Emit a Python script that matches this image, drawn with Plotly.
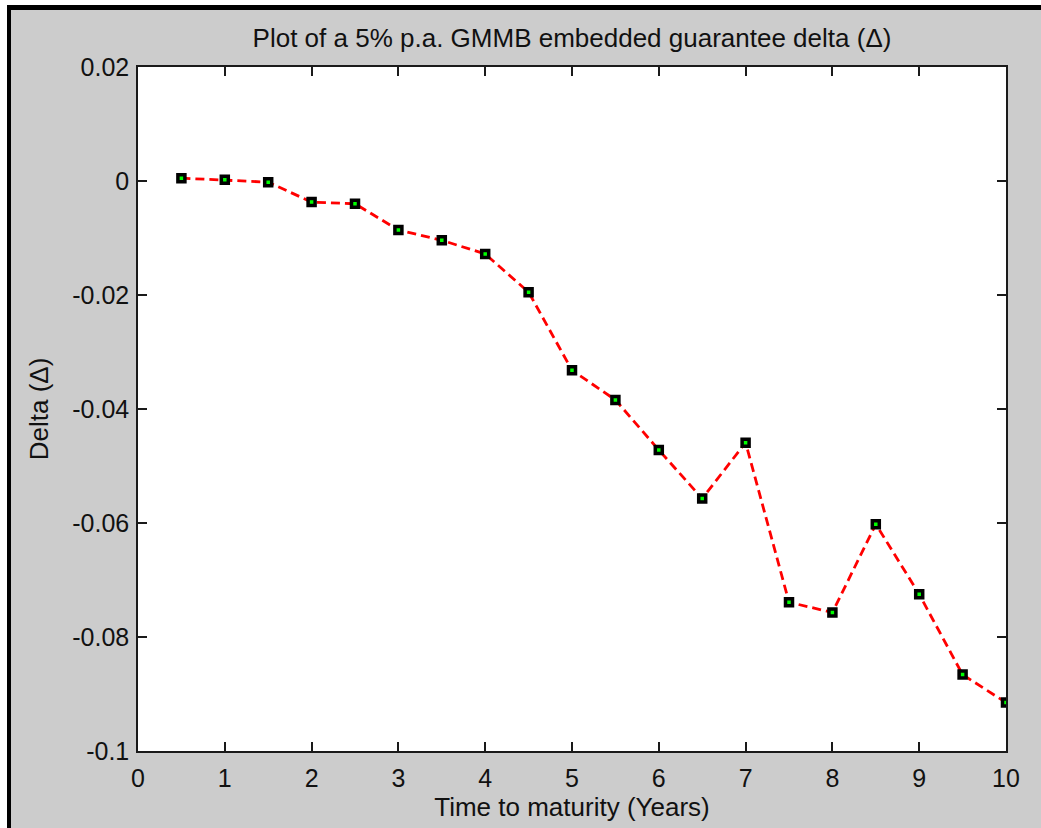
import plotly.graph_objects as go

# Time to maturity (years) and the guarantee delta at each point
maturity_years = [0.5, 1.0, 1.5, 2.0, 2.5, 3.0, 3.5, 4.0, 4.5, 5.0,
                  5.5, 6.0, 6.5, 7.0, 7.5, 8.0, 8.5, 9.0, 9.5, 10.0]
delta_values = [0.0005, 0.0002, -0.0002, -0.0037, -0.0040, -0.0086, -0.0104,
                -0.0128, -0.0195, -0.0332, -0.0384, -0.0472, -0.0557, -0.0459,
                -0.0739, -0.0757, -0.0602, -0.0725, -0.0866, -0.0915]

x_ticks = list(range(0, 11))
x_tick_text = [str(v) for v in x_ticks]
y_ticks = [0.02, 0.0, -0.02, -0.04, -0.06, -0.08, -0.1]
y_tick_text = ["0.02", "0", "-0.02", "-0.04", "-0.06", "-0.08", "-0.1"]

W, H = 1041, 828
L, R, T, B = 138, 35, 67, 77
FONT = "Liberation Sans, Arial, sans-serif"

fig = go.Figure()
fig.add_trace(go.Scatter(
    x=maturity_years, y=delta_values,
    mode="lines+markers",
    line=dict(color="#ff0000", width=2.8, dash="9px,5px"),
    marker=dict(symbol="square", size=7, color="#00ff00",
                line=dict(color="#000000", width=3.5)),
    showlegend=False,
))

axis_common = dict(
    showline=True, linecolor="#1a1a1a", linewidth=1.5, mirror="ticks",
    ticks="inside", ticklen=9, tickwidth=1.5, tickcolor="#1a1a1a",
    showgrid=False, zeroline=False,
    tickfont=dict(family=FONT, size=25, color="#111111"),
)

fig.update_layout(
    width=W, height=H,
    margin=dict(l=L, r=R, t=T, b=B, autoexpand=False),
    paper_bgcolor="#cccccc", plot_bgcolor="#ffffff",
    title=dict(text="Plot of a 5% p.a. GMMB embedded guarantee delta (\u0394)",
               x=0.5, xref="paper", xanchor="center",
               y=1 - 38 / H, yref="container", yanchor="middle",
               font=dict(family=FONT, size=26, color="#111111")),
    xaxis=dict(range=[0, 10], tickvals=x_ticks, ticktext=x_tick_text,
               ticklabelstandoff=4,
               title=dict(text="Time to maturity (Years)", standoff=6,
                          font=dict(family=FONT, size=26, color="#111111")),
               **axis_common),
    yaxis=dict(range=[-0.1, 0.02], tickvals=y_ticks, ticktext=y_tick_text,
               ticklabelstandoff=2,
               title=dict(text="Delta (\u0394)", standoff=16,
                          font=dict(family=FONT, size=26, color="#111111")),
               **axis_common),
)

# Figure frame: thin white margin and black edge along the top and left
def px_rect(x0, y0, x1, y1, color):
    pw, ph = W - L - R, H - T - B
    fig.add_shape(type="rect", xref="paper", yref="paper",
                  x0=(x0 - L) / pw, x1=(x1 - L) / pw,
                  y0=(H - B - y1) / ph, y1=(H - B - y0) / ph,
                  fillcolor=color, line=dict(width=0), layer="above")

px_rect(0, 0, W, 5, "#ffffff")
px_rect(0, 0, 7, H, "#ffffff")
px_rect(7, 5, W, 10, "#000000")
px_rect(7, 5, 11, H, "#000000")

fig.write_html("out.html")
